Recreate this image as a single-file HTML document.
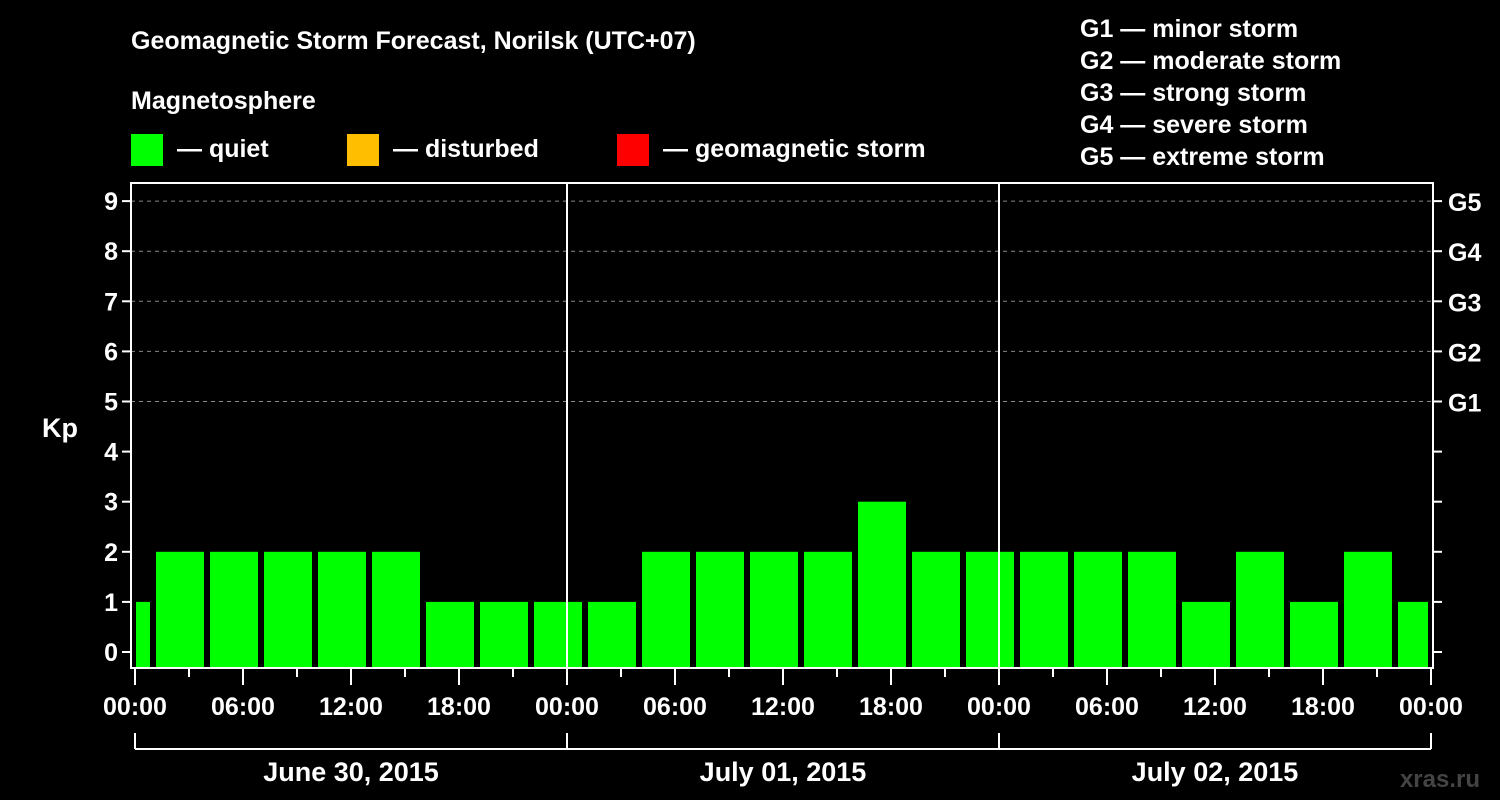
<!DOCTYPE html>
<html><head><meta charset="utf-8"><style>
html,body{margin:0;padding:0;background:#000;}
svg{display:block;font-family:"Liberation Sans",Arial,sans-serif;font-weight:bold;}
</style></head><body>
<svg id="chart" width="1500" height="800" viewBox="0 0 1500 800">
<rect width="1500" height="800" fill="#000"/>
<text x="131" y="49" fill="#fff" font-size="25">Geomagnetic Storm Forecast, Norilsk (UTC+07)</text>
<text x="131" y="109" fill="#fff" font-size="25">Magnetosphere</text>
<g><rect x="131" y="134" width="32" height="32" fill="#00ff00"/><text x="177" y="157" fill="#fff" font-size="25">— quiet</text></g>
<g><rect x="347" y="134" width="32" height="32" fill="#ffbf00"/><text x="393" y="157" fill="#fff" font-size="25">— disturbed</text></g>
<g><rect x="617" y="134" width="32" height="32" fill="#ff0000"/><text x="663" y="157" fill="#fff" font-size="25">— geomagnetic storm</text></g>
<g fill="#fff" font-size="25">
<text x="1080" y="37">G1 — minor storm</text><text x="1080" y="69">G2 — moderate storm</text><text x="1080" y="101">G3 — strong storm</text><text x="1080" y="133">G4 — severe storm</text><text x="1080" y="165">G5 — extreme storm</text>
</g>
<text x="42" y="437" fill="#fff" font-size="27">Kp</text>
<text x="1480" y="787" fill="#444" font-size="24" text-anchor="end">xras.ru</text>
<g id="plot"></g>
</svg>
<script>
const kpValues=[1,2,2,2,2,2,1,1,1,1,2,2,2,2,3,2,2,2,2,2,1,2,1,2,1];
const dayLabels=["June 30, 2015","July 01, 2015","July 02, 2015"];
const hourLabels=["00:00","06:00","12:00","18:00"];
const gLabels=["G1","G2","G3","G4","G5"];
const NS="http://www.w3.org/2000/svg";
const g=document.getElementById('plot');
const L=131,R=1433,T=183,B=668,X0=135,DAY=432;
const xs=h=>X0+h*DAY/24;
const ys=v=>652-v*50.1;
function mk(tag,a,txt){const e=document.createElementNS(NS,tag);for(const k in a)e.setAttribute(k,a[k]);if(txt!==undefined)e.textContent=txt;g.appendChild(e);return e;}
// grid
for(let v=5;v<=9;v++){const e=mk('line',{x1:L,x2:R,y1:ys(v),y2:ys(v),stroke:'#888','stroke-dasharray':'4,4','stroke-width':1});

}
// bars
kpValues.forEach((v,i)=>{const h0=1+3*(i-1);let x1=xs(h0)+3,x2=xs(h0+3)-3;x1=Math.max(x1,L+5);x2=Math.min(x2,R-5);
const e=mk('rect',{x:x1,y:ys(v),width:x2-x1,height:B-ys(v),fill:'#00ff00'});

});
// day separators
[1,2].forEach(d=>{const e=mk('line',{x1:xs(24*d),x2:xs(24*d),y1:T,y2:B,stroke:'#fff','stroke-width':2});

});
// frame
const fr=mk('rect',{x:L,y:T,width:R-L,height:B-T,fill:'none',stroke:'#fff','stroke-width':2});


// y ticks
for(let v=0;v<=9;v++){mk('line',{x1:L-9,x2:L,y1:ys(v),y2:ys(v),stroke:'#fff','stroke-width':2});mk('line',{x1:R,x2:R+9,y1:ys(v),y2:ys(v),stroke:'#fff','stroke-width':2});
const t=mk('text',{x:L-13,y:ys(v)+9,fill:'#fff','font-size':25,'text-anchor':'end'},String(v));

}
gLabels.forEach((s,i)=>{const t=mk('text',{x:R+15,y:ys(i+5)+10,fill:'#fff','font-size':25},s);

});
// x ticks
for(let h=0;h<=72;h+=3){const major=h%6===0;mk('line',{x1:xs(h),x2:xs(h),y1:B,y2:B+(major?17:9),stroke:'#fff','stroke-width':2});
if(major){const t=mk('text',{x:xs(h),y:715,fill:'#fff','font-size':25,'text-anchor':'middle'},hourLabels[(h/6)%4]);

}}
// day bracket
mk('line',{x1:xs(0),x2:xs(72),y1:749,y2:749,stroke:'#fff','stroke-width':2});
for(let d=0;d<=3;d++)mk('line',{x1:xs(24*d),x2:xs(24*d),y1:733,y2:749,stroke:'#fff','stroke-width':2});
dayLabels.forEach((s,d)=>{const t=mk('text',{x:xs(24*d+12),y:781,fill:'#fff','font-size':27,'text-anchor':'middle'},s);

});
</script>
</body></html>
